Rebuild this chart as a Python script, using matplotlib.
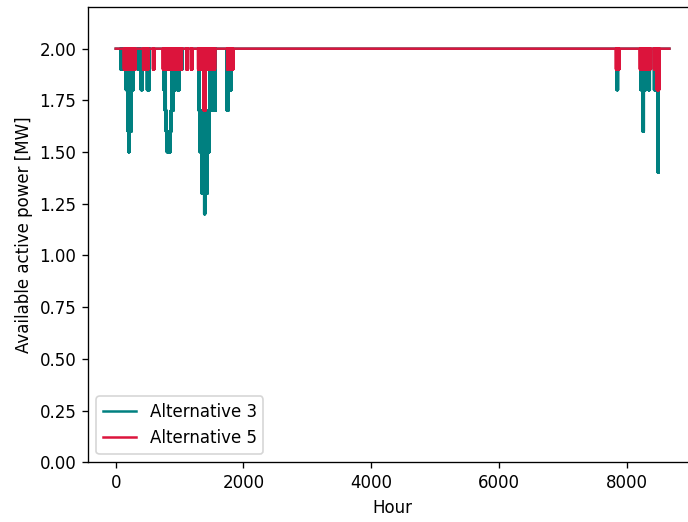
import numpy as np
import matplotlib
matplotlib.use('Agg')
import matplotlib.pyplot as plt

# Hourly availability series, nominal 2.0 MW
N_HOURS = 8667
P_NOM = 2.0

# Curtailment episodes: start hour, end hour, level [MW]
alt3_start = [75, 160, 190, 200, 340, 395, 490, 750, 770, 785, 800, 960, 1005,
              1300, 1315, 1345, 1385, 1740, 1755, 7840, 8215, 8245, 8335, 8425, 8485]
alt3_end = [100, 280, 250, 215, 420, 420, 530, 940, 905, 875, 860, 1000, 1045,
            1565, 1470, 1440, 1400, 1765, 1815, 7860, 8300, 8265, 8360, 8455, 8495]
alt3_level = [1.9, 1.8, 1.6, 1.5, 1.9, 1.8, 1.8, 1.8, 1.7, 1.6, 1.5, 1.8, 1.9,
              1.7, 1.5, 1.3, 1.2, 1.7, 1.8, 1.8, 1.8, 1.6, 1.8, 1.8, 1.4]

alt5_start = [130, 430, 585, 740, 1015, 1105, 1180, 1290, 1380, 1745, 7830, 8205, 8424, 8470]
alt5_end = [310, 510, 605, 995, 1035, 1130, 1200, 1555, 1405, 1840, 7880, 8369, 8510, 8505]
alt5_level = [1.9, 1.9, 1.9, 1.9, 1.9, 1.9, 1.9, 1.9, 1.7, 1.9, 1.9, 1.9, 1.9, 1.8]

COLORS = {'alt3': '#008080', 'alt5': '#DC143C'}


def build_series(starts, ends, levels):
    """Hourly series with intermittent dips inside each episode."""
    p = np.full(N_HOURS, P_NOM)
    order = np.argsort(levels)[::-1]  # deeper dips drawn over shallow ones
    for i in order:
        p[starts[i]:ends[i] + 1:2] = levels[i]
    return p


hours = np.arange(N_HOURS)
p3 = build_series(alt3_start, alt3_end, alt3_level)
p5 = build_series(alt5_start, alt5_end, alt5_level)

# axes extends past the right edge, as in the original export
px_per_hour = 0.0639
ax_width = 1.1 * (N_HOURS - 1) * px_per_hour
fig = plt.figure(figsize=(688 / 120, 522 / 120), dpi=120)
ax = fig.add_axes([88 / 688, (522 - 462.3) / 522, ax_width / 688, 455 / 522])

ax.plot(hours, p3, color=COLORS['alt3'], lw=1.5, label='Alternative 3')
ax.plot(hours, p5, color=COLORS['alt5'], lw=1.5, label='Alternative 5')

ax.set_ylim(0, 2.2)
ax.set_yticks(np.arange(0, 2.01, 0.25))
ax.set_xticks([0, 2000, 4000, 6000, 8000])
ax.set_xlabel('Hour')
ax.set_ylabel('Available active power [MW]')
ax.legend(loc='lower left')

fig.savefig('out.png', dpi=120)
plt.close(fig)
